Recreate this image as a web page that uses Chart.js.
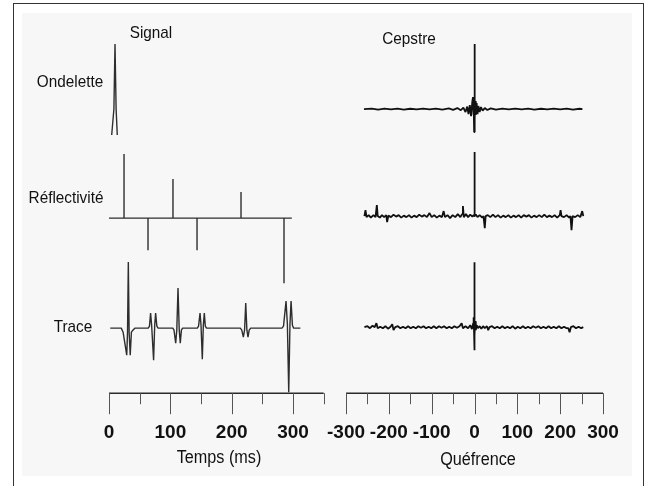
<!DOCTYPE html>
<html>
<head>
<meta charset="utf-8">
<script src="https://cdn.jsdelivr.net/npm/chart.js@4"></script>
<style>
  body { margin: 0; width: 648px; height: 486px; position: relative; overflow: hidden; background: #fff; font-family: "Liberation Sans", Arial, sans-serif; color: #111; }
  #cadre { position: absolute; left: 13px; top: 3px; width: 629px; height: 495px; border: 1.5px solid #333; border-bottom: none; }
  #fond { position: absolute; left: 22px; top: 13px; width: 610px; height: 463px; background: #f7f7f7; }
  canvas { position: absolute; left: 0; top: 0; }
  .label { position: absolute; font-size: 17px; line-height: 1; white-space: nowrap; transform: translateX(-50%) scaleX(0.9); }
  .titre-axe { font-size: 18px; }
</style>
</head>
<body>
<div id="cadre"></div>
<div id="fond"></div>
<canvas id="graficoSignal" width="648" height="486"></canvas>
<canvas id="graficoCepstre" width="648" height="486"></canvas>

<div class="label" style="left:151px; top:24px;">Signal</div>
<div class="label" style="left:409px; top:30px;">Cepstre</div>
<div class="label" style="left:70px; top:73px;">Ondelette</div>
<div class="label" style="left:66px; top:189px;">Réflectivité</div>
<div class="label" style="left:73px; top:318px;">Trace</div>
<div class="label titre-axe" style="left:219px; top:448px;">Temps (ms)</div>
<div class="label titre-axe" style="left:478px; top:450px;">Quéfrence</div>

<script>
// décalages verticaux des trois traces (Ondelette, Réflectivité, Trace)
const decalagesSignal = [285, 175, 65];
const decalagesCepstre = [284, 177, 66];

// Ondelette : temps (ms), amplitude
const ondeletteTemps = [4.4, 8, 9.8, 11.6, 13.5];
const ondeletteAmp = [-27, -1, 64, -1, -27];

// Réflectivité : pics
const reflTemps = [24.5, 63.6, 104.3, 143.5, 215.2, 285.3];
const reflAmp = [64, -32, 39, -32, 26, -65];
const reflDebut = 0;
const reflFin = 298;

// Trace : temps (ms), amplitude
const traceTemps = [
  2, 20, 23, 28.9, 30.2, 31.5, 32.8, 34.6, 36.5, 39, 42,
  64, 66, 67.8, 69.5, 72.7, 74.5, 76.0, 78, 80,
  104, 106, 108.7, 110.5, 112.5, 114.5, 116.2, 118, 120,
  144, 146, 148.4, 150, 152.1, 153.8, 155.4, 157, 159,
  214, 216.5, 219, 221, 222.9, 224.8, 226.6, 228.5, 231,
  282, 284.5, 288.6, 290.8, 293, 295, 296.8, 299, 301, 312
];
const traceAmp = [
  0, 0, -4, -27, -4, 66, -4, -27, -4, -2, 0,
  0, 2, 15, 3, -32, 3, 15, 2, 0,
  0, -2, -15, -2, 40, -2, -15, -2, 0,
  0, 2, 15, 3, -31, 3, 15, 2, 0,
  0, -2, -9, -2, 25, -2, -9, -2, 0,
  0, 2, 27, 4, -64, 4, 27, 3, 0, 0
];

// Cepstres : [quéfrence, amplitude]
const cepstreOndelette = [
  [-258, 0], [-240, 0.5], [-225, -0.5], [-210, 0.5], [-195, -0.3], [-180, 0.4], [-165, -0.5],
  [-150, 0.3], [-135, -0.4], [-120, 0.5], [-105, -0.3], [-90, 0.4], [-75, -0.5], [-60, 0.6],
  [-50, -0.8], [-40, 1], [-32, -1.2], [-26, 1.5], [-21, -3], [-17, 2.5], [-14, -5], [-11, 4],
  [-8, -7], [-5, 8], [-3.5, 12], [-2.5, -6], [-1.5, 5], [-0.8, -23], [0, 65], [0.8, -10],
  [1.6, 8], [3, -6], [5, 6], [7, -5], [9, 3], [12, -3], [15, 2], [19, -1.5], [24, 1],
  [30, -1], [38, 0.7], [50, -0.5], [65, 0.4], [80, -0.4], [95, 0.5], [110, -0.3], [125, 0.4],
  [140, -0.5], [155, 0.3], [170, -0.4], [185, 0.5], [200, -0.3], [215, 0.4], [230, -0.5],
  [245, 0.3], [252, 0]
];
const cepstreReflectivite = [
  [-257, 0], [-254.5, 6], [-252, -1], [-247, 1], [-242, -1.5], [-236, 1], [-231, -1], [-228, 11],
  [-226, 0], [-221, -1.5], [-216, 1], [-211, -1], [-206, 1], [-204, -6], [-201, 0.5], [-195, -1],
  [-189, 1.5], [-183, -0.5], [-177, 1], [-171, -1.5], [-165, 0.5], [-159, -1], [-153, 1],
  [-147, -1.5], [-141, 0.5], [-135, -1], [-129, 1.5], [-123, -0.5], [-117, 1], [-111, -1],
  [-105, 3], [-100, -1], [-94, 1], [-88, -1.5], [-82, 0.5], [-76, -1], [-72, 5], [-69, -1],
  [-63, 1], [-57, -2], [-51, 1], [-45, -1], [-39, 2], [-33, -1], [-29, 2], [-27, 10], [-25, -1],
  [-20, 2], [-15, -1], [-10, 1.5], [-5, -0.5], [-2, 1], [-0.5, 0], [0, 64], [0.5, 0], [3, 1.5],
  [7, -1], [12, 1], [18, -1.5], [21, 0], [24, -12], [26, 0], [31, 1], [37, -1], [43, 1.5],
  [49, -1], [55, 1], [61, -1.5], [67, 0.5], [73, -1], [79, 1], [85, -1.5], [91, 0.5], [97, -1],
  [103, 1], [109, -1.5], [115, 1], [121, -0.5], [127, 1], [133, -1.5], [139, 0.5], [145, -1],
  [151, 1], [157, -1], [163, 1.5], [169, -1], [175, 0.5], [181, -1], [187, 1], [193, -1.5],
  [199, 1], [201, 6], [203, 0], [209, -1], [215, 1], [221, -1.5], [224, 0], [226.5, -14],
  [229, 0], [235, -1], [241, 1], [247, -1], [251.5, 5], [254, 0]
];
const cepstreTrace = [
  [-257, 0], [-250, 1], [-244, -1], [-238, 1.5], [-233, 0], [-229, 4], [-226, -1], [-220, 0.5],
  [-214, -1], [-208, 1], [-202, -1.5], [-196, 0.5], [-192, 3], [-189, -3], [-185, 0], [-179, 1],
  [-173, -1], [-167, 0.5], [-161, -1], [-155, 1], [-149, -1], [-143, 0.5], [-137, -1], [-131, 1],
  [-125, -0.5], [-119, 1], [-113, -1], [-107, 0.5], [-101, -1], [-95, 1], [-89, -1], [-83, 1],
  [-77, -0.5], [-71, 1], [-65, -1], [-59, 0.5], [-53, -1], [-47, 1], [-41, -0.5], [-35, 1],
  [-30, 4], [-27, -1], [-21, 1], [-15, -1], [-10, 2], [-6, -2], [-3, 4], [-2, 10], [-1, -5],
  [-0.5, -23], [0, 65], [0.5, -8], [1.5, 6], [3, -3], [5, 2], [8, -1], [12, 1], [16, -1.5],
  [20, 1], [24, -1], [29, 1], [32, -3], [35, 0], [41, 1], [47, -1], [53, 0.5], [59, -1], [65, 1],
  [71, -1], [77, 0.5], [83, -1], [89, 1], [95, -1.5], [101, 0.5], [107, -1], [113, 1], [119, -1],
  [125, 0.5], [131, -1], [137, 1], [143, -0.5], [149, 1], [155, -1], [161, 0.5], [167, -1],
  [173, 1], [179, -1], [185, 0.5], [191, -1], [197, 1], [203, -1], [209, 0.5], [215, -1],
  [219, -1], [222, -5], [225, 0], [231, 1], [237, -1], [243, 0.5], [249, -1], [254, 0]
];

// axes
const axeSignal = { min: 0, max: 350, pas: 50 };
const axeCepstre = { min: -300, max: 300, pas: 50 };

function montarPontos(xs, ys, decalage) {
  return xs.map((x, i) => ({ x: x, y: ys[i] + decalage }));
}

function montarPics(temps, amps, debut, fin, decalage) {
  const pts = [{ x: debut, y: decalage }];
  temps.forEach((t, i) => {
    pts.push({ x: t, y: decalage });
    pts.push({ x: t, y: amps[i] + decalage });
    pts.push({ x: t, y: decalage });
  });
  pts.push({ x: fin, y: decalage });
  return pts;
}

function montarPaires(paires, decalage) {
  return paires.map((p) => ({ x: p[0], y: p[1] + decalage }));
}

// axe dessiné à la main : ligne + graduations longues (centaines) et courtes
const axeGraduations = {
  id: "axeGraduations",
  afterDraw(chart) {
    const s = chart.scales.x;
    const ctx = chart.ctx;
    const y0 = chart.chartArea.bottom;
    ctx.save();
    ctx.strokeStyle = "#2a2a2a";
    ctx.lineWidth = 1.6;
    ctx.beginPath();
    ctx.moveTo(s.getPixelForValue(s.min), y0);
    ctx.lineTo(s.getPixelForValue(s.max), y0);
    ctx.stroke();
    ctx.strokeStyle = "#555";
    ctx.lineWidth = 1;
    s.ticks.forEach((t) => {
      const x = Math.round(s.getPixelForValue(t.value)) + 0.5;
      const len = t.value % 100 === 0 ? 21 : 11;
      ctx.beginPath();
      ctx.moveTo(x, y0);
      ctx.lineTo(x, y0 + len);
      ctx.stroke();
    });
    ctx.restore();
  }
};

function optionsGrafico(axe, padGauche, padDroite) {
  return {
    responsive: false,
    animation: false,
    layout: { padding: { left: padGauche, right: padDroite, top: 10, bottom: 14 } },
    plugins: { legend: { display: false }, tooltip: { enabled: false } },
    elements: { point: { radius: 0 } },
    scales: {
      x: {
        type: "linear",
        min: axe.min,
        max: axe.max,
        grid: { display: false, drawTicks: false },
        border: { display: false },
        ticks: {
          stepSize: axe.pas,
          autoSkip: false,
          maxRotation: 0,
          minRotation: 0,
          padding: 28,
          color: "#111",
          font: { family: "'Liberation Sans', Arial, sans-serif", size: 19, weight: "bold" },
          callback: function(value) {
            return value % 100 === 0 ? String(value) : "";
          }
        }
      },
      y: { display: false, min: 0, max: 383 }
    }
  };
}

const styleSignal = { borderColor: "#2e2e2e", borderWidth: 1.4, borderJoinStyle: "bevel", showLine: true, pointRadius: 0 };
const styleCepstre = { borderColor: "#111", borderWidth: 1.8, borderJoinStyle: "bevel", showLine: true, pointRadius: 0 };

new Chart(document.getElementById("graficoSignal"), {
  type: "scatter",
  data: {
    datasets: [
      Object.assign({ label: "Ondelette", data: montarPontos(ondeletteTemps, ondeletteAmp, decalagesSignal[0]) }, styleSignal),
      Object.assign({ label: "Réflectivité", data: montarPics(reflTemps, reflAmp, reflDebut, reflFin, decalagesSignal[1]) }, styleSignal),
      Object.assign({ label: "Trace", data: montarPontos(traceTemps, traceAmp, decalagesSignal[2]) }, styleSignal)
    ]
  },
  options: optionsGrafico(axeSignal, 109, 648 - 323.7),
  plugins: [axeGraduations]
});

new Chart(document.getElementById("graficoCepstre"), {
  type: "scatter",
  data: {
    datasets: [
      Object.assign({ label: "Ondelette", data: montarPaires(cepstreOndelette, decalagesCepstre[0]) }, styleCepstre),
      Object.assign({ label: "Réflectivité", data: montarPaires(cepstreReflectivite, decalagesCepstre[1]) }, styleCepstre),
      Object.assign({ label: "Trace", data: montarPaires(cepstreTrace, decalagesCepstre[2]) }, styleCepstre)
    ]
  },
  options: optionsGrafico(axeCepstre, 346, 45),
  plugins: [axeGraduations]
});
</script>
</body>
</html>
